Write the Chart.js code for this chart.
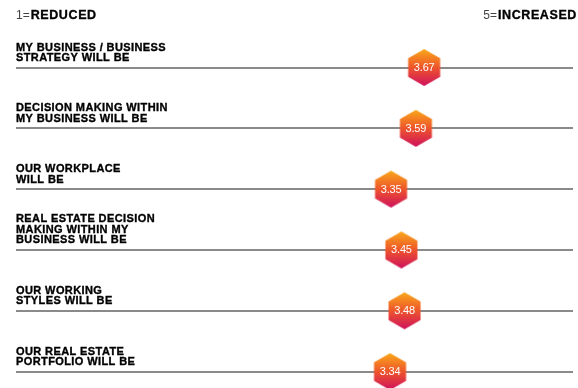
<!DOCTYPE html>
<html>
<head>
<meta charset="utf-8">
<script src="https://cdn.jsdelivr.net/npm/chart.js@4"></script>
<style>
  html, body { margin: 0; padding: 0; background: #fff; }
  #wrap { width: 578px; height: 388px; position: relative; }
</style>
</head>
<body>
<div id="wrap"><canvas id="myChart" width="578" height="388"></canvas></div>
<script>
// statements, top to bottom
const categories = [
  ["MY BUSINESS / BUSINESS", "STRATEGY WILL BE"],
  ["DECISION MAKING WITHIN", "MY BUSINESS WILL BE"],
  ["OUR WORKPLACE", "WILL BE"],
  ["REAL ESTATE DECISION", "MAKING WITHIN MY", "BUSINESS WILL BE"],
  ["OUR WORKING", "STYLES WILL BE"],
  ["OUR REAL ESTATE", "PORTFOLIO WILL BE"]
];
// average score, 1 = reduced .. 5 = increased
const values = [3.67, 3.59, 3.35, 3.45, 3.48, 3.34];
const lowLabel = ["1=", "REDUCED"];
const highLabel = ["5=", "INCREASED"];

const FONT = "'Liberation Sans', Arial, sans-serif";

// hexagon marker with orange -> crimson gradient
function makeHex() {
  const r = 18.5;
  const w = Math.ceil(Math.sqrt(3) * r) + 2;
  const h = Math.ceil(2 * r) + 2;
  const c = document.createElement("canvas");
  c.width = w;
  c.height = h;
  const g = c.getContext("2d");
  const cx = w / 2, cy = h / 2;
  const grad = g.createLinearGradient(0, cy - r, 0, cy + r);
  grad.addColorStop(0, "#f9a81a");
  grad.addColorStop(0.5, "#ee552c");
  grad.addColorStop(1, "#cf125e");
  g.beginPath();
  for (let k = 0; k < 6; k++) {
    const a = Math.PI / 180 * (60 * k - 90);
    const px = cx + r * Math.cos(a);
    const py = cy + r * Math.sin(a);
    if (k == 0) g.moveTo(px, py); else g.lineTo(px, py);
  }
  g.closePath();
  g.fillStyle = grad;
  g.fill();
  return c;
}
const hex = makeHex();

// bold text drawn a bit heavier, like the original's black grotesque
function heavyText(ctx, txt, x, y) {
  ctx.fillText(txt, x, y);
  ctx.strokeText(txt, x, y);
}

const textPlugin = {
  id: "textPlugin",
  afterDatasetsDraw(chart) {
    const ctx = chart.ctx;
    const yScale = chart.scales.y;
    const xScale = chart.scales.x;
    ctx.save();
    ctx.strokeStyle = "#000";
    ctx.lineWidth = 0.35;

    // header
    ctx.textBaseline = "alphabetic";
    ctx.letterSpacing = "0px";
    ctx.font = "12px " + FONT;
    ctx.textAlign = "left";
    ctx.fillStyle = "#444";
    ctx.fillText(lowLabel[0], 16, 19);
    let w0 = ctx.measureText(lowLabel[0]).width;
    ctx.font = "bold 12.5px " + FONT;
    ctx.letterSpacing = "0.6px";
    ctx.fillStyle = "#000";
    heavyText(ctx, lowLabel[1], 16 + w0 + 1, 19);

    ctx.textAlign = "right";
    heavyText(ctx, highLabel[1], 577, 19);
    let w1 = ctx.measureText(highLabel[1]).width;
    ctx.letterSpacing = "0px";
    ctx.font = "12px " + FONT;
    ctx.fillStyle = "#444";
    ctx.fillText(highLabel[0], 577 - w1 - 1, 19);

    // category labels above each line
    ctx.font = "bold 11px " + FONT;
    ctx.letterSpacing = "0.4px";
    ctx.fillStyle = "#000";
    ctx.textAlign = "left";
    categories.forEach((lines, i) => {
      const base = yScale.getPixelForValue(i) - 6.5;
      for (let j = 0; j < lines.length; j++) {
        const y = base - (lines.length - 1 - j) * 10.5;
        heavyText(ctx, lines[j], 16, y);
      }
    });

    // values inside hexagons
    ctx.font = "11px " + FONT;
    ctx.letterSpacing = "-0.2px";
    ctx.fillStyle = "#ffffff";
    ctx.textAlign = "center";
    ctx.textBaseline = "middle";
    values.forEach((v, i) => {
      ctx.fillText(v.toFixed(2), xScale.getPixelForValue(v), yScale.getPixelForValue(i) + 0.5);
    });
    ctx.restore();
  }
};

const ctx = document.getElementById("myChart").getContext("2d");
const myChart = new Chart(ctx, {
  type: "scatter",
  data: {
    datasets: [
      {
        label: "Score",
        data: values.map((v, i) => ({ x: v, y: i })),
        pointStyle: hex,
        pointRadius: 18,
        clip: false
      }
    ]
  },
  options: {
    responsive: false,
    animation: false,
    events: [],
    layout: { autoPadding: false, padding: { left: 16, right: 5, top: 0, bottom: 0 } },
    plugins: {
      legend: { display: false },
      tooltip: { enabled: false }
    },
    scales: {
      x: {
        type: "linear",
        display: false,
        min: -0.274,
        max: 5.108
      },
      y: {
        type: "linear",
        reverse: true,
        min: -1.11,
        max: 5.27,
        afterBuildTicks: (scale) => {
          scale.ticks = categories.map((c, i) => ({ value: i }));
        },
        afterFit: (scale) => { scale.width = 0; },
        ticks: { display: false },
        border: { display: false },
        grid: {
          color: "#8a8a8a",
          lineWidth: 2,
          drawTicks: false
        }
      }
    }
  },
  plugins: [textPlugin]
});
</script>
</body>
</html>
